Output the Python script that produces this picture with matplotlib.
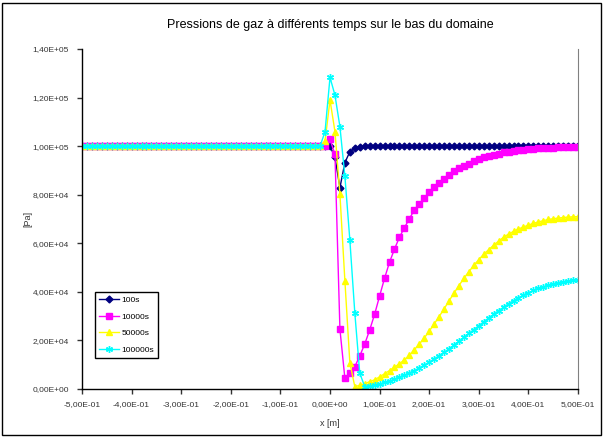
import numpy as np
import matplotlib
matplotlib.use("Agg")
import matplotlib.pyplot as plt
from matplotlib.patches import Rectangle

plt.rcParams['font.family'] = ['Liberation Sans Narrow', 'Liberation Sans', 'DejaVu Sans']

# grille en x (pas de 0,01 m)
x = np.round(np.arange(-50, 51) * 0.01, 2)

# valeurs (Pa) ; à gauche tout est à 1,00E+05
base_left = [100000] * 48          # x = -0,50 .. -0,03

p_100 = base_left + [100000, 100000, 100000, 95400, 82900, 93200, 97700, 99100, 99700] + [100000] * 44

p_10000 = base_left + [100000, 100000, 102800, 96600, 24600, 4400, 6500, 9200, 13600, 18500,
                       24300, 30800, 38300, 45600, 52200, 57600, 62500, 66400, 70100, 73700,
                       76200, 78650, 81000, 83000, 84700, 86600, 88200, 89600, 90800, 91900,
                       92800, 93700, 94600, 95400, 96000, 96500, 96900, 97400, 97700, 98000,
                       98300, 98500, 98700, 98900, 99100, 99200, 99300, 99400, 99500, 99500,
                       99600, 99600, 99700]

p_50000 = base_left + [100000, 102000, 119000, 106000, 80200, 44600, 10800, 1000, 1500, 2200,
                       3000, 3800, 5000, 6300, 7600, 9000, 10400, 12000, 13900, 16200,
                       18500, 21000, 23800, 26800, 29800, 33000, 36300, 39500, 42600, 45600,
                       48300, 50900, 53300, 55500, 57400, 59200, 60900, 62500, 63800, 64900,
                       65900, 66700, 67500, 68200, 68800, 69300, 69800, 70100, 70400, 70600,
                       70800, 70900, 71000]

p_100000 = base_left + [100000, 106000, 128300, 121000, 108000, 87700, 61400, 31400, 6500, 1000,
                        1200, 1600, 2100, 2700, 3300, 4000, 4800, 5700, 6600, 7600,
                        8700, 9900, 11100, 12400, 13700, 15100, 16600, 18100, 19700, 21300,
                        22900, 24500, 26100, 27700, 29300, 30800, 32300, 33700, 35100, 36400,
                        37600, 38700, 39700, 40600, 41400, 42100, 42700, 43300, 43800, 44200,
                        44500, 44700, 44900]

series = [("100s", p_100, "#000080", "D", 3.5),
          ("10000s", p_10000, "#FF00FF", "s", 4.5),
          ("50000s", p_50000, "#FFFF00", "^", 5),
          ("100000s", p_100000, "#00FFFF", (6, 2, 0), 5)]

x_ticks = np.round(np.arange(-5, 6) * 0.1, 1)
y_ticks = np.arange(0, 8) * 20000


def excel_fmt(v):
    return f"{v:.2E}".replace('.', ',')


fig = plt.figure(figsize=(6.04, 4.37), dpi=100)
ax = fig.add_axes([82 / 604, 48 / 437, 496 / 604, 340 / 437])

for name, vals, col, mk, ms in series:
    ax.plot(x, vals, color=col, marker=mk, markersize=ms, linewidth=1,
            markeredgewidth=1, markeredgecolor=col, label=name)

ax.set_xlim(-0.5, 0.5)
ax.set_ylim(0, 140000)
ax.set_xticks(x_ticks)
ax.set_xticklabels([excel_fmt(v) for v in x_ticks])
ax.set_yticks(y_ticks)
ax.set_yticklabels([excel_fmt(v) for v in y_ticks])
ax.tick_params(labelsize=6, colors='#333333', length=3.5, width=1, direction='out')
ax.tick_params(axis='x', pad=5)
ax.tick_params(axis='y', pad=6)

ax.spines['top'].set_visible(False)
ax.spines['right'].set_color('#808080')
ax.spines['left'].set_linewidth(1)
ax.spines['bottom'].set_linewidth(1)

ax.set_xlabel("x [m]", fontsize=6.5, color='#333333', labelpad=8)
ax.set_ylabel("[Pa]", fontsize=6.5, color='#333333', labelpad=0)
ax.set_title("Pressions de gaz à différents temps sur le bas du domaine",
             fontsize=9, color='black', pad=15)

leg = ax.legend(loc='lower left', bbox_to_anchor=(0.026, 0.091), fontsize=6,
                frameon=True, fancybox=False, edgecolor='black', framealpha=1,
                handlelength=2.4, borderpad=0.5, borderaxespad=0,
                labelspacing=1.05, handletextpad=0.3)
leg.get_frame().set_linewidth(1)

fig.patches.append(Rectangle((2 / 604, 2 / 437), 599 / 604, 432 / 437, transform=fig.transFigure,
                             fill=False, edgecolor='black', linewidth=1))

fig.savefig("out.png", dpi=100)
